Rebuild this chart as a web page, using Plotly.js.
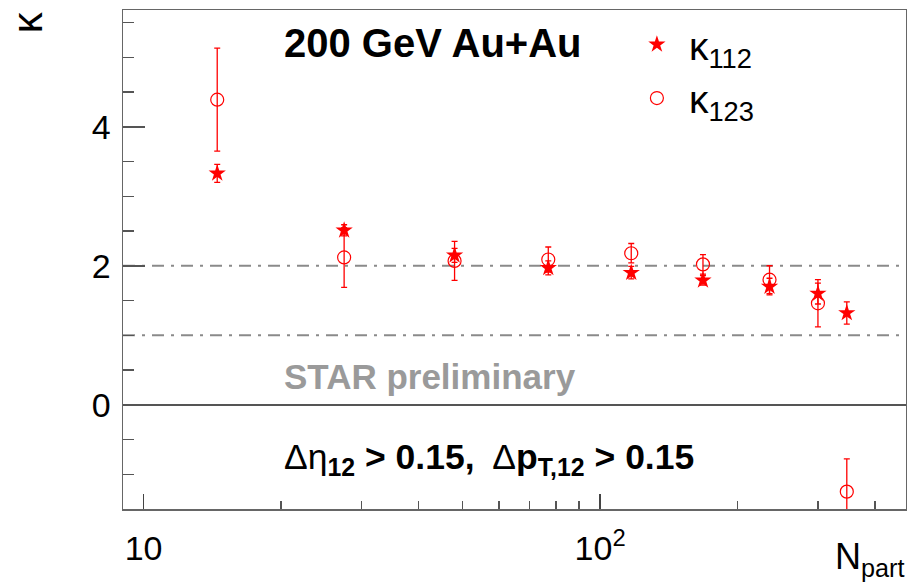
<!DOCTYPE html>
<html>
<head>
<meta charset="utf-8">
<script src="https://cdn.plot.ly/plotly-3.0.1.min.js"></script>
<style>
  html, body { margin: 0; padding: 0; background: #fff; }
  #plot { width: 907px; height: 588px; }
</style>
</head>
<body>
<div id="plot"></div>
<script>
// Centrality classes, expressed as number of participants
const npart = [14.5, 27.5, 48, 77, 117, 168, 235, 300, 347];

// kappa_112 with statistical errors
const kappa112 = [3.33, 2.51, 2.15, 1.97, 1.90, 1.79, 1.70, 1.60, 1.32];
const err112   = [0.13, 0.08, 0.10, 0.10, 0.09, 0.07, 0.12, 0.15, 0.16];

// kappa_123 with statistical errors
const kappa123 = [4.39, 2.12, 2.07, 2.09, 2.18, 2.02, 1.80, 1.46, -1.25];
const err123   = [0.74, 0.43, 0.28, 0.18, 0.14, 0.14, 0.20, 0.34, 0.47];

// Reference levels drawn as dash-dotted lines
const refLevels = [1, 2];

// Axis ticks
const xMajor = [10, 100];
const xMajorText = ['10', '10<sup>2</sup>'];
const xMinor = [20, 30, 40, 50, 60, 70, 80, 90, 200, 300, 400];
const yMajor = [0, 2, 4];

const RED = '#ff0000';
const FONT = 'Liberation Sans, Arial, Helvetica, sans-serif';

const traces = [
  {
    x: npart, y: kappa123, type: 'scatter', mode: 'markers',
    name: '\u03ba<sub>123</sub>', legendrank: 2,
    marker: { symbol: 'circle-open', size: 13, color: RED, line: { width: 1.2, color: RED } },
    error_y: { type: 'data', array: err123, visible: true, color: RED, thickness: 1.3, width: 3 }
  },
  {
    x: npart, y: kappa112, type: 'scatter', mode: 'markers',
    name: '\u03ba<sub>112</sub>', legendrank: 1,
    marker: { symbol: 'star', size: 13, color: RED, line: { width: 0 } },
    error_y: { type: 'data', array: err112, visible: true, color: RED, thickness: 1.3, width: 3 }
  }
];

const shapes = refLevels.map(v => ({
  type: 'line', xref: 'paper', x0: 0, x1: 1, yref: 'y', y0: v, y1: v,
  line: { color: '#8a8a8a', width: 2, dash: '12px,7px,3px,7px' },
  layer: 'below'
}));

const layout = {
  width: 907, height: 588,
  margin: { l: 123, r: 1, t: 10, b: 79 },
  paper_bgcolor: '#ffffff', plot_bgcolor: '#ffffff',
  font: { family: FONT, color: '#000' },
  showlegend: true,
  legend: {
    x: 0.641, xanchor: 'left', y: 0.995, yanchor: 'top',
    bgcolor: 'rgba(0,0,0,0)', borderwidth: 0,
    font: { family: FONT, size: 39, color: '#000' },
    itemwidth: 54, traceorder: 'normal', tracegroupgap: 0
  },
  xaxis: {
    type: 'log', range: [0.955, 2.67],
    showline: true, linecolor: '#666', linewidth: 1.5, mirror: true,
    showgrid: false, zeroline: false,
    tickmode: 'array', tickvals: xMajor, ticktext: xMajorText,
    ticks: 'inside', ticklen: 15, tickwidth: 1.5, tickcolor: '#444',
    ticklabelstandoff: 9,
    tickfont: { family: FONT, size: 34, color: '#000' },
    minor: { tickmode: 'array', tickvals: xMinor, ticks: 'inside', ticklen: 8, tickwidth: 1.5, tickcolor: '#555' }
  },
  yaxis: {
    range: [-1.5, 5.68],
    showline: true, linecolor: '#666', linewidth: 1.5, mirror: true,
    showgrid: false,
    zeroline: true, zerolinecolor: '#555', zerolinewidth: 1.5,
    tickmode: 'array', tickvals: yMajor,
    ticks: 'inside', ticklen: 22, tickwidth: 1.5, tickcolor: '#555',
    ticklabelstandoff: 4,
    tickfont: { family: FONT, size: 34, color: '#000' },
    minor: { dtick: 0.5, ticks: 'inside', ticklen: 11, tickwidth: 1.5, tickcolor: '#555' }
  },
  shapes: shapes,
  annotations: [
    {
      text: '200 GeV Au+Au', xref: 'paper', yref: 'paper',
      x: 0.203, y: 0.933, xanchor: 'left', yanchor: 'middle', showarrow: false,
      font: { family: FONT, size: 40, color: '#000', weight: 700 }
    },
    {
      text: 'STAR preliminary', xref: 'paper', yref: 'paper',
      x: 0.203, y: 0.266, xanchor: 'left', yanchor: 'middle', showarrow: false,
      font: { family: FONT, size: 35, color: '#9a9a9a', weight: 700 }
    },
    {
      text: '\u0394\u03b7<sub><b>12</b></sub><b> &gt; 0.15,</b>&nbsp; \u0394<b>p<sub>T,12</sub> &gt; 0.15</b>',
      xref: 'paper', yref: 'paper',
      x: 0.203, y: 0.10, xanchor: 'left', yanchor: 'middle', showarrow: false,
      font: { family: FONT, size: 35.5, color: '#000' }
    },
    {
      text: 'N<sub>part</sub>', xref: 'paper', yref: 'paper',
      x: 1.0, y: -0.10, xanchor: 'right', yanchor: 'middle', showarrow: false,
      font: { family: FONT, size: 36, color: '#000' }
    },
    {
      text: '\u03ba', xref: 'paper', yref: 'paper',
      x: -0.121, y: 0.976, xanchor: 'center', yanchor: 'middle', showarrow: false,
      textangle: -90,
      font: { family: FONT, size: 42, color: '#000' }
    }
  ]
};

Plotly.newPlot('plot', traces, layout, { staticPlot: true, displayModeBar: false });
</script>
</body>
</html>
